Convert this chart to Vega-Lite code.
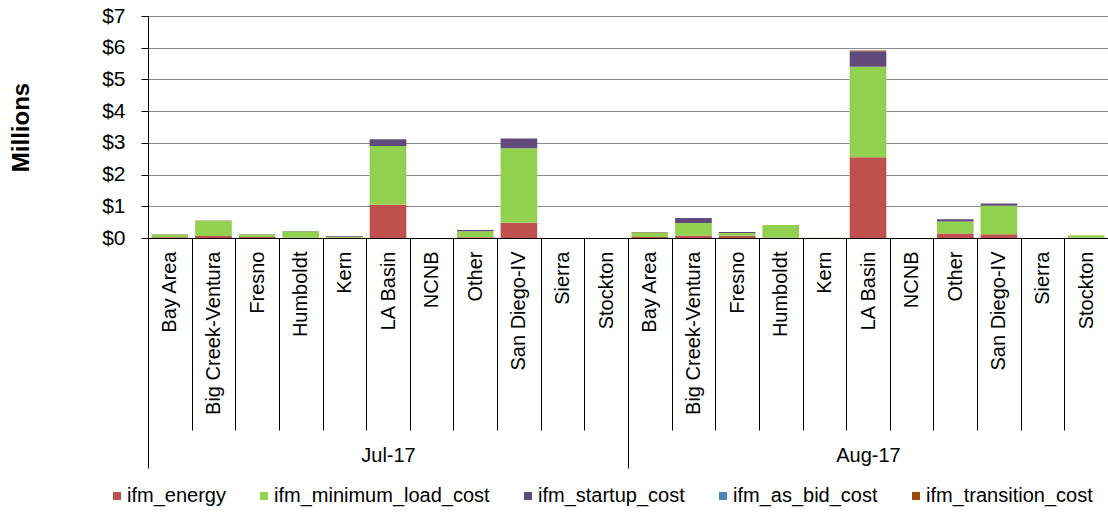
{
  "$schema": "https://vega.github.io/schema/vega-lite/v6.json",
  "autosize": "none",
  "width": 960,
  "height": 222,
  "padding": {"left": 148, "top": 16, "right": 0, "bottom": 274},
  "background": "white",
  "config": {
    "font": "Liberation Sans",
    "view": {"stroke": null},
    "axis": {"labelFont": "Liberation Sans", "titleFont": "Liberation Sans", "labelColor": "black", "titleColor": "black"}
  },
  "data": {
    "values": [
      {"cat": "Jul-17|Bay Area", "series": "ifm_energy", "value": 0.02},
      {"cat": "Jul-17|Bay Area", "series": "ifm_minimum_load_cost", "value": 0.09},
      {"cat": "Jul-17|Bay Area", "series": "ifm_startup_cost", "value": 0.01},
      {"cat": "Jul-17|Big Creek-Ventura", "series": "ifm_energy", "value": 0.06},
      {"cat": "Jul-17|Big Creek-Ventura", "series": "ifm_minimum_load_cost", "value": 0.48},
      {"cat": "Jul-17|Big Creek-Ventura", "series": "ifm_startup_cost", "value": 0.01},
      {"cat": "Jul-17|Fresno", "series": "ifm_energy", "value": 0.03},
      {"cat": "Jul-17|Fresno", "series": "ifm_minimum_load_cost", "value": 0.08},
      {"cat": "Jul-17|Fresno", "series": "ifm_startup_cost", "value": 0.01},
      {"cat": "Jul-17|Humboldt", "series": "ifm_energy", "value": 0.01},
      {"cat": "Jul-17|Humboldt", "series": "ifm_minimum_load_cost", "value": 0.2},
      {"cat": "Jul-17|Humboldt", "series": "ifm_startup_cost", "value": 0.01},
      {"cat": "Jul-17|Kern", "series": "ifm_energy", "value": 0.01},
      {"cat": "Jul-17|Kern", "series": "ifm_minimum_load_cost", "value": 0.03},
      {"cat": "Jul-17|Kern", "series": "ifm_startup_cost", "value": 0.02},
      {"cat": "Jul-17|LA Basin", "series": "ifm_energy", "value": 1.05},
      {"cat": "Jul-17|LA Basin", "series": "ifm_minimum_load_cost", "value": 1.85},
      {"cat": "Jul-17|LA Basin", "series": "ifm_startup_cost", "value": 0.21},
      {"cat": "Jul-17|Other", "series": "ifm_energy", "value": 0.02},
      {"cat": "Jul-17|Other", "series": "ifm_minimum_load_cost", "value": 0.19},
      {"cat": "Jul-17|Other", "series": "ifm_startup_cost", "value": 0.04},
      {"cat": "Jul-17|San Diego-IV", "series": "ifm_energy", "value": 0.48},
      {"cat": "Jul-17|San Diego-IV", "series": "ifm_minimum_load_cost", "value": 2.35},
      {"cat": "Jul-17|San Diego-IV", "series": "ifm_startup_cost", "value": 0.31},
      {"cat": "Aug-17|Bay Area", "series": "ifm_energy", "value": 0.03},
      {"cat": "Aug-17|Bay Area", "series": "ifm_minimum_load_cost", "value": 0.14},
      {"cat": "Aug-17|Bay Area", "series": "ifm_startup_cost", "value": 0.01},
      {"cat": "Aug-17|Bay Area", "series": "ifm_transition_cost", "value": 0.01},
      {"cat": "Aug-17|Big Creek-Ventura", "series": "ifm_energy", "value": 0.07},
      {"cat": "Aug-17|Big Creek-Ventura", "series": "ifm_minimum_load_cost", "value": 0.4},
      {"cat": "Aug-17|Big Creek-Ventura", "series": "ifm_startup_cost", "value": 0.16},
      {"cat": "Aug-17|Fresno", "series": "ifm_energy", "value": 0.07},
      {"cat": "Aug-17|Fresno", "series": "ifm_minimum_load_cost", "value": 0.09},
      {"cat": "Aug-17|Fresno", "series": "ifm_startup_cost", "value": 0.03},
      {"cat": "Aug-17|Humboldt", "series": "ifm_energy", "value": 0.01},
      {"cat": "Aug-17|Humboldt", "series": "ifm_minimum_load_cost", "value": 0.4},
      {"cat": "Aug-17|Kern", "series": "ifm_minimum_load_cost", "value": 0.01},
      {"cat": "Aug-17|LA Basin", "series": "ifm_energy", "value": 2.55},
      {"cat": "Aug-17|LA Basin", "series": "ifm_minimum_load_cost", "value": 2.85},
      {"cat": "Aug-17|LA Basin", "series": "ifm_startup_cost", "value": 0.49},
      {"cat": "Aug-17|LA Basin", "series": "ifm_transition_cost", "value": 0.02},
      {"cat": "Aug-17|Other", "series": "ifm_energy", "value": 0.14},
      {"cat": "Aug-17|Other", "series": "ifm_minimum_load_cost", "value": 0.38},
      {"cat": "Aug-17|Other", "series": "ifm_startup_cost", "value": 0.07},
      {"cat": "Aug-17|San Diego-IV", "series": "ifm_energy", "value": 0.12},
      {"cat": "Aug-17|San Diego-IV", "series": "ifm_minimum_load_cost", "value": 0.9},
      {"cat": "Aug-17|San Diego-IV", "series": "ifm_startup_cost", "value": 0.07},
      {"cat": "Aug-17|Stockton", "series": "ifm_energy", "value": 0.01},
      {"cat": "Aug-17|Stockton", "series": "ifm_minimum_load_cost", "value": 0.08}
    ]
  },
  "layer": [
    {
      "mark": {"type": "bar", "width": {"band": 0.84}},
      "encoding": {
        "x": {
          "field": "cat",
          "type": "nominal",
          "sort": null,
          "scale": {
            "domain": ["Jul-17|Bay Area", "Jul-17|Big Creek-Ventura", "Jul-17|Fresno", "Jul-17|Humboldt", "Jul-17|Kern", "Jul-17|LA Basin", "Jul-17|NCNB", "Jul-17|Other", "Jul-17|San Diego-IV", "Jul-17|Sierra", "Jul-17|Stockton",
                       "Aug-17|Bay Area", "Aug-17|Big Creek-Ventura", "Aug-17|Fresno", "Aug-17|Humboldt", "Aug-17|Kern", "Aug-17|LA Basin", "Aug-17|NCNB", "Aug-17|Other", "Aug-17|San Diego-IV", "Aug-17|Sierra", "Aug-17|Stockton"],
            "paddingInner": 0,
            "paddingOuter": 0
          },
          "axis": {
            "orient": "bottom",
            "title": null,
            "domain": true,
            "domainColor": "black",
            "domainWidth": 1,
            "ticks": true,
            "tickBand": "extent",
            "tickSize": 192,
            "tickColor": "black",
            "tickWidth": 1,
            "labelAngle": 270,
            "labelAlign": "right",
            "labelBaseline": "middle",
            "labelPadding": -179,
            "labelFontSize": 20,
            "labelOverlap": false,
            "labelBound": false,
            "labelFlush": false,
            "labelExpr": "split(datum.value, '|')[1]",
            "grid": false
          }
        },
        "y": {
          "aggregate": "sum",
          "field": "value",
          "type": "quantitative",
          "stack": "zero",
          "scale": {"domain": [0, 7], "nice": false},
          "axis": {
            "title": "Millions",
            "titleFontSize": 24,
            "titleFontWeight": "bold",
            "titlePadding": 68,
            "values": [0, 1, 2, 3, 4, 5, 6, 7],
            "format": "$.0f",
            "labelFontSize": 21,
            "labelPadding": 16,
            "tickSize": 7,
            "tickColor": "black",
            "domainColor": "black",
            "grid": true,
            "gridColor": "#8c8c8c",
            "gridWidth": 1
          }
        },
        "order": {"field": "series", "sort": "ascending"},
        "color": {
          "field": "series",
          "type": "nominal",
          "scale": {
            "domain": ["ifm_energy", "ifm_minimum_load_cost", "ifm_startup_cost", "ifm_as_bid_cost", "ifm_transition_cost"],
            "range": ["#C0504D", "#92D050", "#604A7B", "#4F81BD", "#984807"]
          },
          "legend": {
            "title": null,
            "orient": "none",
            "legendX": -41,
            "legendY": 470,
            "direction": "horizontal",
            "columns": 5,
            "columnPadding": 28,
            "symbolType": "square",
            "symbolSize": 64,
            "symbolStrokeWidth": 0,
            "labelFontSize": 20,
            "labelFont": "Liberation Sans",
            "labelColor": "black",
            "labelOffset": 0,
            "labelLimit": 400
          }
        }
      }
    },
    {
      "mark": {"type": "rule", "opacity": 0},
      "encoding": {
        "x": {
          "field": "cat",
          "type": "nominal",
          "sort": null,
          "axis": {
            "orient": "bottom",
            "title": null,
            "domain": false,
            "values": ["Jul-17|Bay Area", "Aug-17|Bay Area"],
            "ticks": true,
            "tickSize": 230,
            "tickColor": "black",
            "tickWidth": 1,
            "tickOffset": -21.818,
            "labelOffset": 240,
            "labelAngle": 0,
            "labelAlign": "center",
            "labelBaseline": "middle",
            "labelPadding": -13,
            "labelFontSize": 20,
            "labelOverlap": false,
            "labelBound": false,
            "labelFlush": false,
            "labelExpr": "split(datum.value, '|')[0]",
            "grid": false
          }
        }
      }
    }
  ],
  "resolve": {"axis": {"x": "independent"}}
}
